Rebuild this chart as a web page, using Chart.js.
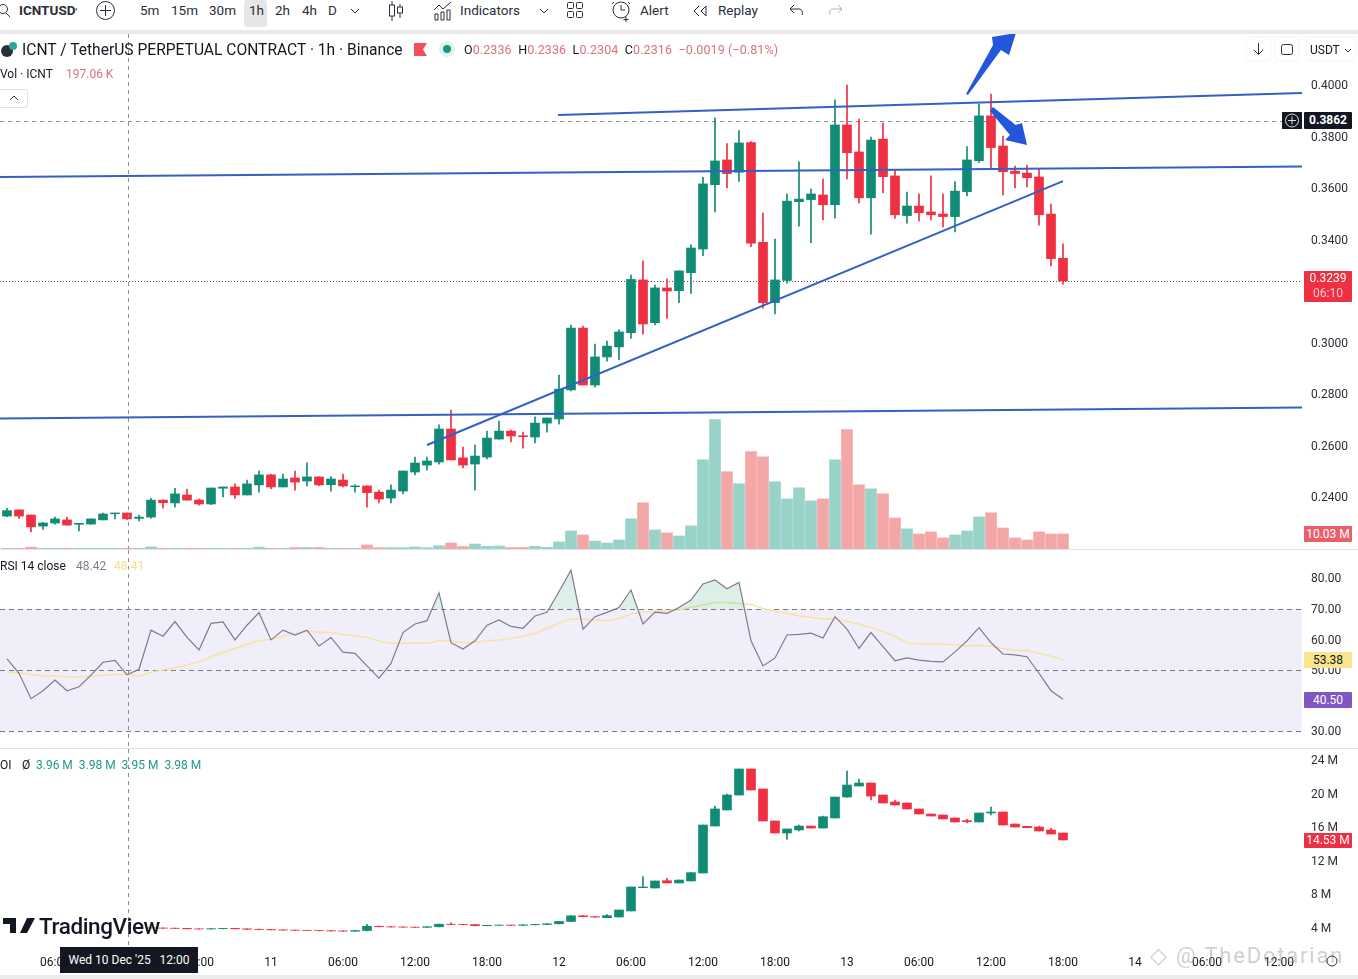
<!DOCTYPE html>
<html>
<head>
<meta charset="utf-8">
<title>ICNTUSD</title>
<script src="https://cdn.jsdelivr.net/npm/chart.js@4/dist/chart.umd.min.js"></script>
<style>
  html, body { margin: 0; padding: 0; background: #fff; }
  body { width: 1358px; height: 979px; position: relative; overflow: hidden; font-family: Roboto, sans-serif; font-size: 13px; color: #131722; }
  canvas { position: absolute; left: 0; }
  .t { position: absolute; white-space: nowrap; line-height: 16px; }
  .box { position: absolute; left: 1304px; width: 48px; text-align: center; font-size: 12px; line-height: 16px; border-radius: 1px; }
  .sep { position: absolute; left: 0; width: 1358px; height: 1px; background: #e0e3eb; }
  .tb { position: absolute; top: 2px; line-height: 16px; font-size: 13.500px; color: #2a2e39; }
  svg { position: absolute; overflow: visible; }
  svg * { fill: none; stroke: #2a2e39; stroke-width: 1; }
  .red { color: #d9727e; }
  .teal { color: #1f9b85; }
</style>
</head>
<body>
<canvas id="mainChart" width="1358" height="515" style="top:34px"></canvas>
<canvas id="rsiChart" width="1358" height="198" style="top:550px"></canvas>
<canvas id="oiChart" width="1358" height="226" style="top:749px"></canvas>

<!-- barra superior -->
<div style="position:absolute;left:0;top:30px;width:1358px;height:4px;background:#e9e9e9"></div>
<div style="position:absolute;left:244px;top:0;width:23px;height:27px;background:#e6e6e6;border-radius:3px"></div>
<svg style="left:0;top:2px" width="16" height="16"><circle cx="3" cy="7" r="4.5"/><path d="M6 11l4 4"/></svg>
<div class="tb" style="left:19px;font-weight:700">ICNTUSD<span style="font-size:9px">&#39;</span></div>
<svg style="left:96px;top:1px" width="20" height="20"><circle cx="9.5" cy="9.5" r="9"/><path d="M9.5 4v11M4 9.5h11"/></svg>
<div class="tb" style="left:140px">5m</div>
<div class="tb" style="left:171px">15m</div>
<div class="tb" style="left:209px">30m</div>
<div class="tb" style="left:249px">1h</div>
<div class="tb" style="left:275px">2h</div>
<div class="tb" style="left:302px">4h</div>
<div class="tb" style="left:328px">D</div>
<svg style="left:350px;top:8px" width="10" height="6"><path d="M1 1l4 4 4-4"/></svg>
<svg style="left:388px;top:1px" width="16" height="20"><path d="M4 0v20M12 3v14"/><rect x="1.5" y="4" width="5" height="11" style="fill:#fff"/><rect x="9.5" y="6" width="5" height="6" style="fill:#fff"/></svg>
<svg style="left:433px;top:1px" width="20" height="20"><path d="M1 9l5-5 4 4 8-7M2 19v-6h3v6zM8 19v-8h3v8zM14 19v-10h3v10z"/></svg>
<div class="tb" style="left:460px">Indicators</div>
<svg style="left:539px;top:8px" width="10" height="6"><path d="M1 1l4 4 4-4"/></svg>
<svg style="left:567px;top:2px" width="16" height="16"><rect x=".5" y=".5" width="6" height="6" rx="1"/><rect x="9.5" y=".5" width="6" height="6" rx="1"/><rect x=".5" y="9.5" width="6" height="6" rx="1"/><rect x="9.5" y="9.5" width="6" height="6" rx="1"/></svg>
<svg style="left:612px;top:0" width="20" height="22"><circle cx="9" cy="10" r="8"/><path d="M9 5v5h4M14 17v5M11.5 19.500h5M2 2L0 4M16 2l2 2"/></svg>
<div class="tb" style="left:640px">Alert</div>
<svg style="left:692px;top:5px" width="16" height="12"><path d="M7 1L2 6l5 5M14 1L9 6l5 5z"/></svg>
<div class="tb" style="left:718px">Replay</div>
<svg style="left:789px;top:4px" width="16" height="12"><path d="M5 1L1 5l4 4M1 5h9c3 0 4 3 3 6"/></svg>
<svg style="left:827px;top:4px;opacity:.35" width="16" height="12"><path d="M11 1l4 4-4 4M15 5H6c-3 0-4 3-3 6"/></svg>

<!-- leyenda principal -->
<svg style="left:0;top:41px" width="18" height="17"><circle cx="7" cy="10" r="6" style="fill:#2a2e39;stroke:none"/><circle cx="13" cy="5" r="4" style="fill:#26a69a;stroke:none"/></svg>
<div class="t" style="left:22px;top:41px;font-size:15.600px;line-height:18px">ICNT / TetherUS PERPETUAL CONTRACT · 1h · Binance</div>
<svg style="left:414px;top:43px" width="13" height="13"><path d="M0 0h13l-4 6.500 4 6.500H0z" style="fill:#f0505c;stroke:none"/></svg>
<svg style="left:439px;top:41px" width="16" height="16"><circle cx="8" cy="8" r="8" style="fill:#dff3ef;stroke:none"/><circle cx="8" cy="8" r="4" style="fill:#179a85;stroke:none"/></svg>
<div class="t" style="left:464px;top:42px;font-size:12.500px;letter-spacing:.1px">O<span class="red">0.2336</span>&nbsp; H<span class="red">0.2336</span>&nbsp; L<span class="red">0.2304</span>&nbsp; C<span class="red">0.2316</span>&nbsp; <span class="red">−0.0019 (−0.81%)</span></div>
<div class="t" style="left:0;top:66px;font-size:12px">Vol · ICNT</div>
<div class="t red" style="left:66px;top:66px;font-size:12px">197.06 K</div>
<div style="position:absolute;left:-1px;top:89px;width:27px;height:17px;border:1px solid #e0e3eb;border-radius:2px"></div>
<svg style="left:9px;top:95px" width="10" height="6"><path d="M1 5l4-4 4 4"/></svg>

<!-- botones derecha -->
<div style="position:absolute;left:1247px;top:38px;width:23px;height:22px;border-radius:3px;box-shadow:0 0 2px #ddd"></div>
<svg style="left:1253px;top:43px" width="11" height="12"><path d="M5.500 0v11M1 7l4.500 4.500L10 7"/></svg>
<div style="position:absolute;left:1276px;top:38px;width:22px;height:22px;border-radius:3px;box-shadow:0 0 2px #ddd"></div>
<svg style="left:1281px;top:44px" width="12" height="11"><rect x=".5" y=".5" width="11" height="10" rx="2"/></svg>
<div style="position:absolute;left:1307px;top:38px;width:48px;height:22px;border-radius:3px;box-shadow:0 0 2px #ddd"></div>
<div class="t" style="left:1310px;top:42px;font-size:12px">USDT</div>
<svg style="left:1344px;top:48px" width="8" height="5"><path d="M1 1l3 3 3-3"/></svg>

<!-- etiquetas del eje de precio -->
<div style="position:absolute;left:1282px;top:112px;width:20px;height:17px;background:#131722"></div>
<svg style="left:1285px;top:113px" width="14" height="14"><circle cx="7" cy="7.500" r="6.500" style="stroke:#ddd"/><path d="M7 3.500v8M3 7.500h8" style="stroke:#ddd"/></svg>
<div class="box" style="top:112px;height:17px;background:#131722;color:#fff;font-weight:700">0.3862</div>
<div class="box" style="top:271px;height:31px;background:#ee3042;color:#fff;line-height:15px">0.3239<br><span style="color:#ffc9cf">06:10</span></div>
<div class="box" style="top:526px;height:16px;background:#e9606a;color:#fff">10.03 M</div>

<!-- RSI -->
<div class="sep" style="top:549px"></div>
<div class="t" style="left:0;top:558px;font-size:12px">RSI 14 close</div>
<div class="t" style="left:76px;top:558px;font-size:12px;color:#7e7a92">48.42</div>
<div class="t" style="left:114px;top:558px;font-size:12px;color:#f3df8e">48.41</div>
<div class="box" style="top:652px;height:16px;background:#f8e58c">53.38</div>
<div class="box" style="top:692px;height:16px;background:#7e57c2;color:#fff">40.50</div>

<!-- OI -->
<div class="sep" style="top:748px"></div>
<div class="t" style="left:0;top:757px;font-size:12px">OI</div>
<div class="t" style="left:22px;top:757px;font-size:12px">Ø</div>
<div class="t teal" style="left:36px;top:757px;font-size:12px">3.96 M&nbsp; 3.98 M&nbsp; 3.95 M&nbsp; 3.98 M</div>
<div class="box" style="top:833px;height:15px;background:#ee3042;color:#fff;line-height:15px">14.53 M</div>

<!-- pie -->
<svg style="left:3px;top:918px" width="32" height="16"><path d="M0 0h13v15H7V6H0zM16 0h16l-8 15h-7l7-15z" style="fill:#131722;stroke:none"/></svg>
<div class="t" style="left:39px;top:913px;font-size:22.500px;line-height:26px;font-weight:500;letter-spacing:-.4px">TradingView</div>
<div style="position:absolute;left:60px;top:947px;width:138px;height:26px;background:#131722;color:#fff;font-size:12px;line-height:26px;text-align:center">Wed 10 Dec &#39;25 &nbsp; 12:00</div>
<div class="t" style="left:1150px;top:943px;font-size:22px;line-height:26px;letter-spacing:1.800px;color:rgba(140,140,150,.42)">◇ @ TheDotarian</div>
<svg style="left:1326px;top:955px" width="12" height="12"><circle cx="6" cy="6" r="5"/></svg>
<div style="position:absolute;left:0;top:975px;width:1358px;height:4px;background:#ececec"></div>

<script>
// Velas de 1h: firstHour = horas desde el 10 Dic 00:00 de la primera vela visible
const firstHour = 2;
const priceOpen = [
  .2326,.2350,.2330,.2287,.2299,.2311,.2294,.2295,.2311,.2335,
  .2338,.2317,.2322,.2388,.2377,.2408,.2388,.2373,.2434,.2439,
  .2408,.2447,.2486,.2439,.2474,.2462,.2478,.2448,.2466,.2440,
  .2443,.2419,.2396,.2423,.2497,.2524,.2536,.2664,.2552,.2528,
  .2555,.2625,.2656,.2638,.2633,.2687,.2703,.2816,.3056,.2835,
  .2944,.2983,.3038,.3243,.3077,.3212,.3201,.3271,.3363,.3613,
  .3709,.3661,.3776,.3389,.3155,.3241,.3547,.3555,.3573,.3535,
  .3845,.3740,.3562,.3790,.3647,.3493,.3530,.3507,.3499,.3489,
  .3586,.3706,.3880,.3763,.3666,.3658,.3643,.3499,.3327
];
const priceHigh = [
  .2356,.2350,.2330,.2302,.2322,.2322,.2298,.2315,.2338,.2338,
  .2338,.2330,.2395,.2388,.2434,.2431,.2392,.2435,.2439,.2451,
  .2466,.2501,.2488,.2489,.2501,.2533,.2478,.2479,.2489,.2447,
  .2443,.2427,.2447,.2501,.2555,.2555,.2680,.2738,.2594,.2602,
  .2656,.2695,.2660,.2652,.2711,.2707,.2874,.3068,.3064,.2994,
  .3006,.3049,.3262,.3317,.3223,.3247,.3278,.3379,.3641,.3873,
  .3773,.3823,.3780,.3503,.3402,.3577,.3702,.3596,.3635,.3942,
  .4000,.3868,.3798,.3852,.3670,.3584,.3577,.3647,.3577,.3625,
  .3761,.3926,.3965,.3802,.3685,.3689,.3674,.3538,.3383
];
const priceLow = [
  .2324,.2317,.2264,.2274,.2295,.2291,.2268,.2295,.2311,.2315,
  .2313,.2307,.2318,.2357,.2361,.2388,.2368,.2370,.2400,.2395,
  .2408,.2419,.2432,.2439,.2427,.2443,.2444,.2423,.2439,.2419,
  .2361,.2377,.2377,.2412,.2486,.2505,.2528,.2544,.2513,.2427,
  .2548,.2625,.2614,.2590,.2610,.2652,.2683,.2812,.2835,.2827,
  .2928,.2932,.3016,.3032,.3068,.3094,.3155,.3191,.3337,.3507,
  .3600,.3626,.3372,.3133,.3111,.3230,.3452,.3388,.3476,.3483,
  .3635,.3542,.3421,.3582,.3482,.3463,.3472,.3476,.3449,.3429,
  .3569,.3698,.3678,.3573,.3600,.3604,.3456,.3297,.3227
];
const priceClose = [
  .2347,.2326,.2284,.2299,.2315,.2291,.2298,.2315,.2334,.2338,
  .2315,.2322,.2388,.2378,.2412,.2388,.2373,.2435,.2439,.2408,
  .2451,.2486,.2439,.2470,.2458,.2478,.2447,.2470,.2443,.2443,
  .2417,.2392,.2427,.2501,.2532,.2540,.2664,.2544,.2524,.2559,
  .2629,.2656,.2637,.2634,.2687,.2707,.2819,.3056,.2835,.2944,
  .2986,.3041,.3245,.3072,.3212,.3200,.3278,.3367,.3616,.3705,
  .3656,.3775,.3386,.3155,.3243,.3549,.3557,.3577,.3535,.3845,
  .3737,.3562,.3786,.3644,.3496,.3530,.3504,.3496,.3489,.3588,
  .3709,.3880,.3757,.3663,.3656,.3640,.3496,.3326,.3239
];
// Volumen en millones
const volume = [
  .4,.4,1.2,.5,.5,.5,.4,.5,.4,.4,
  .5,.5,1.4,.5,.5,.5,.4,.4,.4,.4,
  .5,1.2,.5,.5,1,1,1,.5,.4,.4,
  2.7,.9,.9,.9,1.4,.9,2.2,4,1.6,3.3,
  1.8,2,1,1,1.8,1.1,4.7,12,9.4,5.3,
  4,6,20.1,30.8,12.7,10.7,8.7,15.4,59.5,86.3,
  51.5,43.5,64.9,61.5,44.8,33.4,40.8,32.1,33.4,59.5,
  79.6,42.8,40.1,36.8,20.7,13.4,10,11.4,7.4,9.4,
  12,21.4,24.1,14,7.4,6,11.4,10,10.03
];
const rsiValues = [
  53.7,49,40.7,43.3,46.8,43.3,44.6,48.4,52.6,53.2,
  48.5,50.3,63.1,61.1,65.9,60.7,56.6,65.3,65.8,59.9,
  64.7,68.8,59.9,63.1,61.5,63.1,57.9,60.7,55.9,55.5,
  51.4,47.4,52.2,62.3,65.1,66.2,75.3,59,56.9,59.6,
  64.7,66.4,64.3,63.7,67.7,68.9,75.7,82.7,63.4,67.5,
  68.9,70.5,76.2,65.1,69,68.6,70.5,72.9,78.2,79.5,
  76.6,78.7,59.6,51.4,54,61.5,61.7,62.1,60.5,67.5,
  63.4,57.1,62.3,57.7,53.1,54,53.3,52.9,52.7,56,
  59.6,63.9,59,55.3,55,54.4,49,43.3,40.5
];
const rsiAverage = [
  49.4,49.2,48.6,48.2,48.1,47.9,47.8,48,48.4,48.6,
  48.6,48,49.3,50.1,50.8,51.7,52.8,54.4,55.8,57.1,
  58.4,59.6,60.1,61.2,61.8,62.8,62.4,62.4,61.7,61.3,
  60.7,59.5,58.8,58.8,58.8,58.8,59.6,59.6,59,59.1,
  59.6,59.9,60.4,61,62,63.7,65.3,66.7,66.7,66.4,
  66.2,66.9,68.4,68.9,69.1,69.5,69.7,70.5,71.3,72.1,
  72.1,71.8,71.5,70.2,69.3,68.6,67.7,67.3,66.7,66.7,
  65.9,65,64,62.6,61,59,58.6,58.6,58.6,58.2,
  58,58.1,57.9,57.1,56.6,56.4,55.5,54.6,53.4
];
// Open interest (millones), empieza detras del logo en la hora 14
const oiFirstHour = 14;
const oiOpen = [
  4.02,4,3.98,3.95,3.9,3.88,3.92,3.95,3.9,3.85,
  3.82,3.78,3.75,3.72,3.7,3.68,3.65,3.62,3.7,4.2,
  4.15,4.12,4.1,4.08,4.15,4.45,4.42,4.4,4.28,4.32,
  4.35,4.32,4.38,4.42,4.5,4.78,5.45,5.35,
  5.23,5.31,6.03,8.8,8.76,9.63,9.36,9.6,10.55,16.14,
  18.05,19.83,22.93,20.55,16.74,15.31,15.67,16.14,15.9,17.1,
  19.59,20.9,21.26,19.83,19,18.88,18.17,17.57,17.45,17.1,
  16.78,16.62,17.69,17.81,16.38,16.1,16.02,15.67,15.31
];
const oiHigh = [
  4.03,4.01,3.99,3.96,3.91,3.93,3.96,3.96,3.91,3.86,
  3.83,3.79,3.76,3.73,3.71,3.69,3.66,3.71,4.45,4.22,
  4.16,4.13,4.11,4.16,4.46,4.62,4.43,4.41,4.33,4.36,
  4.36,4.39,4.43,4.52,4.8,5.47,5.47,5.36,
  5.59,6.14,8.88,10.11,9.6,9.91,9.71,10.59,16.26,18.52,
  19.95,22.93,22.93,20.55,16.74,15.79,16.26,16.14,17.33,19.59,
  22.69,21.74,21.26,19.83,19.24,18.88,18.17,17.57,17.45,17.1,
  16.94,17.69,18.4,17.81,16.38,16.1,16.14,15.9,15.31
];
const oiLow = [
  3.97,3.96,3.93,3.88,3.86,3.86,3.9,3.88,3.83,3.8,
  3.76,3.73,3.7,3.68,3.66,3.63,3.6,3.6,3.66,4.13,
  4.1,4.08,4.06,4.06,4.13,4.4,4.38,4.26,4.26,4.3,
  4.3,4.3,4.36,4.4,4.48,4.76,5.33,5.28,
  5.23,5.31,6.03,8.8,8.76,9.36,9.36,9.6,10.55,16.14,
  18.05,19.83,20.43,16.74,15.31,14.56,15.55,15.9,15.9,17.1,
  19.59,20.9,19.24,18.88,18.64,18.17,17.57,17.33,16.98,16.62,
  16.5,16.62,17.45,16.26,16.02,15.94,15.55,15.19,14.48
];
const oiClose = [
  4,3.98,3.95,3.9,3.88,3.92,3.95,3.9,3.85,3.82,
  3.78,3.75,3.72,3.7,3.68,3.65,3.62,3.7,4.2,4.15,
  4.12,4.1,4.08,4.15,4.45,4.42,4.4,4.28,4.32,4.35,
  4.32,4.38,4.42,4.5,4.78,5.45,5.35,5.3,
  5.47,6.14,8.88,8.88,9.6,9.36,9.71,10.59,16.26,18.17,
  19.83,22.93,20.43,16.74,15.31,15.79,16.14,15.9,17.25,19.59,
  21.02,21.26,19.71,18.88,18.64,18.17,17.57,17.33,16.98,16.62,
  16.66,17.69,17.81,16.26,16.02,15.94,15.55,15.19,14.48
];

// Ejes
const priceTicks = [.24,.26,.28,.30,.32,.34,.36,.38,.40];
const rsiTicks = [30,40,50,60,70,80];
const oiTicks = [4,8,12,16,20,24];
const timeTickHours = [6,12,18,24,30,36,42,48,54,60,66,72,78,84,90,96,102,108];
const timeTickLabels = ['06:00','12:00','18:00','11','06:00','12:00','18:00','12','06:00','12:00','18:00','13','06:00','12:00','18:00','14','06:00','12:00'];
const rsiLevels = [70,50,30];

// Lineas dibujadas a mano sobre el grafico, en [hora, precio]
const trendLines = [
  [[47.92,.38835],[109.92,.39689]],
  [[1.42,.3643],[109.92,.36835]],
  [[37,.2602],[90,.3627]],
  [[1.42,.2705],[109.92,.27476]]
];
const arrowUp = [[81.92,.3965],[84.17,.4155],[84.08,.4186],[86.08,.4202],[85.5,.4117],[84.83,.4136],[82.08,.3961]];
const arrowDown = [[83.9,.3900],[85.58,.3806],[85.17,.3786],[87,.3767],[86.58,.3852],[86.05,.3845],[84.17,.3915]];
const crosshairHour = 12.08;
const crosshairPrice = .3862;
const lastPrice = .3239;

const GREEN = '#118c74', RED = '#ee3042', VOL_GREEN = '#98d2c9', VOL_RED = '#f4a7a7', LINE_BLUE = '#3560c4';
const xMin = 17 / 12, xMax = 1319 / 12;

// El eje reserva medio rotulo arriba y abajo, y aqui el area tiene que medir justo lo pedido
function noPadding(s) {
  s.paddingTop = s.paddingBottom = s.paddingLeft = s.paddingRight = 0;
}

function xScale(display) {
  return {
    type: 'linear', min: xMin, max: xMax, offset: false, display,
    grid: { display: false }, border: { display: false },
    afterBuildTicks: s => { s.ticks = timeTickHours.map(v => ({ value: v })); },
    afterFit: s => { noPadding(s); if (display) s.height = 30; },
    ticks: {
      autoSkip: false, maxRotation: 0, padding: 3, color: '#131722', font: { family: 'Roboto', size: 12 },
      callback: v => timeTickLabels[timeTickHours.indexOf(v)]
    }
  };
}

function yScale(min, max, tickList, format) {
  return {
    type: 'linear', position: 'right', min, max,
    grid: { display: false, drawTicks: false }, border: { display: false },
    afterBuildTicks: s => { s.ticks = tickList.map(v => ({ value: v })); },
    afterFit: s => { noPadding(s); s.width = 56; },
    ticks: { padding: 9, labelOffset: 1, color: '#2a2e39', font: { family: 'Roboto', size: 12 }, callback: format }
  };
}

function candleDatasets(first, o, h, l, c) {
  const colors = c.map((v, i) => v >= o[i] ? GREEN : RED);
  return [
    { type: 'bar', order: 2, grouped: false, barThickness: 1, backgroundColor: colors,
      data: h.map((v, i) => ({ x: first + i, y: [l[i], v] })) },
    { type: 'bar', order: 1, grouped: false, barThickness: 9, backgroundColor: colors,
      data: o.map((v, i) => ({ x: first + i, y: [v, c[i]] })) }
  ];
}

const dashed = (chart, dash, color, draw) => {
  const ctx = chart.ctx;
  ctx.save();
  ctx.setLineDash(dash);
  ctx.strokeStyle = color;
  ctx.lineWidth = 1;
  ctx.beginPath();
  draw(ctx);
  ctx.stroke();
  ctx.restore();
};

const crosshair = {
  id: 'crosshair',
  afterDatasetsDraw(chart) {
    const x = Math.round(chart.scales.x.getPixelForValue(crosshairHour)) + .5;
    dashed(chart, [4, 4], '#8a8d96', ctx => { ctx.moveTo(x, 0); ctx.lineTo(x, chart.chartArea.bottom); });
  }
};

const priceLines = {
  id: 'priceLines',
  beforeDatasetsDraw(chart) {
    const y = chart.scales.y, right = chart.chartArea.right;
    const yLast = Math.round(y.getPixelForValue(lastPrice)) + .5;
    const yCross = Math.round(y.getPixelForValue(crosshairPrice)) + .5;
    dashed(chart, [1, 2], '#6b4a50', ctx => { ctx.moveTo(0, yLast); ctx.lineTo(right, yLast); });
    dashed(chart, [4, 4], '#8a8d96', ctx => { ctx.moveTo(0, yCross); ctx.lineTo(right, yCross); });
  }
};

const arrows = {
  id: 'arrows',
  afterDatasetsDraw(chart) {
    const { x, y } = chart.scales, ctx = chart.ctx;
    [arrowUp, arrowDown].forEach(shape => {
      ctx.save();
      ctx.fillStyle = '#2257dc';
      ctx.beginPath();
      shape.forEach(p => ctx.lineTo(x.getPixelForValue(p[0]), y.getPixelForValue(p[1])));
      ctx.closePath();
      ctx.fill();
      ctx.restore();
    });
  }
};

const rsiBand = {
  id: 'rsiBand',
  beforeDatasetsDraw(chart) {
    const y = chart.scales.y, area = chart.chartArea, ctx = chart.ctx;
    const top = y.getPixelForValue(70), bottom = y.getPixelForValue(30);
    ctx.save();
    ctx.fillStyle = '#f0eef9';
    ctx.fillRect(area.left, top, area.right - area.left, bottom - top);
    ctx.restore();
    rsiLevels.forEach(level => {
      const py = Math.round(y.getPixelForValue(level)) + .5;
      dashed(chart, [5, 4], '#787b86', c => { c.moveTo(area.left, py); c.lineTo(area.right, py); });
    });
  }
};

const baseOptions = {
  responsive: false, animation: false, events: [],
  layout: { padding: 0, autoPadding: false },
  plugins: { legend: { display: false }, tooltip: { enabled: false } }
};

new Chart(document.getElementById('mainChart'), {
  type: 'bar',
  data: {
    datasets: [
      ...trendLines.map(line => ({
        type: 'line', order: 0, borderColor: LINE_BLUE, borderWidth: 2, pointRadius: 0,
        data: line.map(p => ({ x: p[0], y: p[1] }))
      })),
      ...candleDatasets(firstHour, priceOpen, priceHigh, priceLow, priceClose),
      { type: 'bar', order: 3, grouped: false, barThickness: 11, yAxisID: 'vol',
        backgroundColor: priceClose.map((v, i) => v >= priceOpen[i] ? VOL_GREEN : VOL_RED),
        data: volume.map((v, i) => ({ x: firstHour + i, y: v })) }
    ]
  },
  options: {
    ...baseOptions,
    scales: {
      x: xScale(false),
      y: yScale(.21981, .41981, priceTicks, v => v.toFixed(4)),
      vol: { type: 'linear', display: false, min: 0, max: 343.3 }
    }
  },
  plugins: [priceLines, crosshair, arrows]
});

new Chart(document.getElementById('rsiChart'), {
  type: 'line',
  data: {
    datasets: [
      { order: 1, borderColor: '#7e7a92', borderWidth: 1.2, pointRadius: 0, tension: 0,
        fill: { target: { value: 70 }, above: 'rgba(130,200,170,.28)', below: 'rgba(0,0,0,0)' },
        data: rsiValues.map((v, i) => ({ x: firstHour + i, y: v })) },
      { order: 2, borderColor: '#f6e3a4', borderWidth: 1.5, pointRadius: 0, tension: 0,
        data: rsiAverage.map((v, i) => ({ x: firstHour + i, y: v })) }
    ]
  },
  options: {
    ...baseOptions,
    scales: {
      x: xScale(false),
      y: yScale(24.575, 89.281, rsiTicks, v => v.toFixed(2))
    }
  },
  plugins: [rsiBand, crosshair]
});

new Chart(document.getElementById('oiChart'), {
  type: 'bar',
  data: { datasets: candleDatasets(oiFirstHour, oiOpen, oiHigh, oiLow, oiClose) },
  options: {
    ...baseOptions,
    scales: {
      x: xScale(true),
      y: yScale(1.976, 25.31, oiTicks, v => v + ' M')
    }
  },
  plugins: [crosshair]
});
</script>
</body>
</html>
